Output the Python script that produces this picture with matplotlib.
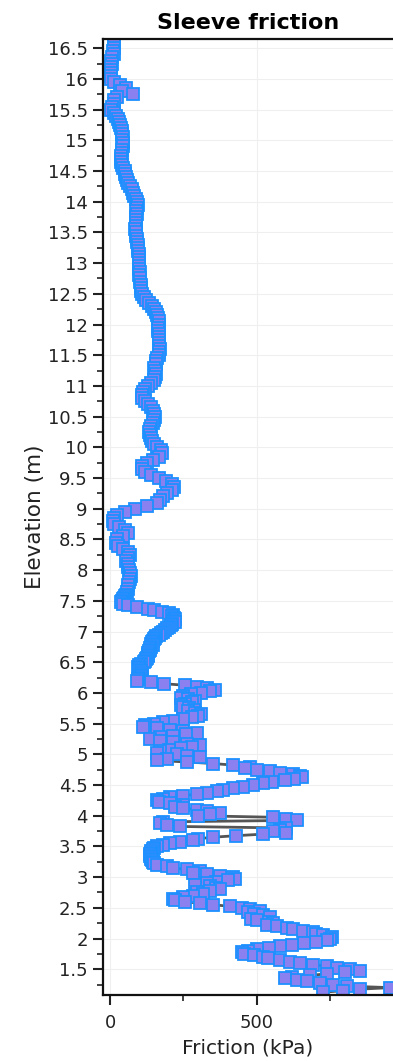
import matplotlib
matplotlib.use('Agg')
import matplotlib.pyplot as plt
from matplotlib.ticker import MultipleLocator, FuncFormatter
import numpy as np

# CPT sleeve friction log: 5 cm readings above 7.6 m, 2.5 cm readings below
upper_top, upper_step = 16.60, 0.05
lower_top, lower_step = 7.60, 0.025

friction_upper = [
    15, 12, 15, 10, 12, 8, 5, 6, 4, 5,              # 16.60 - 16.15
    3, 2, 5, 15, 35, 55, 40, 78, 25, 15,            # 16.10 - 15.65
    15, 8, 5, 12, 20, 28, 30, 35, 38, 40,           # 15.60 - 15.15
    42, 45, 42, 45, 44, 42, 40, 38, 36, 38,         # 15.10 - 14.65
    40, 45, 50, 52, 55, 58, 62, 68, 74, 78,         # 14.60 - 14.15
    82, 88, 92, 95, 93, 90, 92, 90, 88, 90,         # 14.10 - 13.65
    88, 86, 88, 90, 92, 93, 95, 96, 95, 98,         # 13.60 - 13.15
    97, 98, 100, 99, 100, 101, 100, 102, 103, 104,  # 13.10 - 12.65
    104, 106, 110, 116, 124, 133, 142, 150, 155, 160,  # 12.60 - 12.15
    162, 165, 166, 164, 163, 165, 166, 167, 168, 168,  # 12.10 - 11.65
    170, 168, 165, 160, 158, 155, 150, 152, 155, 153,  # 11.60 - 11.15
    148, 140, 130, 120, 112, 108, 110, 118, 128, 138,  # 11.10 - 10.65
    145, 150, 152, 148, 145, 140, 135, 132, 135, 140,  # 10.60 - 10.15
    142, 150, 160, 172, 178, 165, 145, 125, 110, 108,  # 10.10 - 9.65
    120, 140, 165, 190, 210, 218, 212, 195, 180, 170,  # 9.60 - 9.15
    160, 125, 85, 50, 25, 12, 10, 15, 30, 50,       # 9.10 - 8.65
    62, 45, 25, 20, 28, 45, 62, 68, 60, 55,         # 8.60 - 8.15
    60, 62, 65, 68, 70, 68, 65, 62, 60, 58,         # 8.10 - 7.65
]

friction_lower = [
    55, 52, 48, 45, 40, 36, 45, 62, 92, 129,
    150, 177, 200, 215, 210, 218, 222, 215, 220, 212,   # 7.600 - 7.125
    208, 200, 195, 188, 180, 172, 165, 158, 152, 148,
    145, 142, 140, 145, 138, 135, 136, 132, 130, 128,   # 7.100 - 6.625
    130, 126, 124, 120, 115, 105, 98, 95, 97, 100,
    104, 108, 110, 105, 98, 95, 92, 139, 184, 255,      # 6.600 - 6.125
    296, 330, 357, 340, 310, 275, 250, 240, 265, 290,
    280, 255, 240, 250, 270, 285, 265, 290, 310, 300,   # 6.100 - 5.625
    280, 250, 215, 180, 150, 120, 112, 160, 204, 248,
    296, 260, 214, 170, 136, 170, 214, 262, 306, 280,   # 5.600 - 5.125
    240, 200, 170, 160, 228, 262, 306, 194, 160, 262,
    350, 418, 476, 460, 500, 544, 578, 622, 645, 652,   # 5.100 - 4.625
    625, 594, 550, 520, 486, 452, 418, 384, 364, 330,
    296, 248, 204, 180, 160, 165, 204, 248, 220, 250,   # 4.600 - 4.125
    296, 330, 374, 340, 300, 555, 600, 636, 180, 170,
    194, 238, 600, 580, 555, 600, 520, 430, 350, 300,   # 4.100 - 3.625
    282, 238, 204, 180, 160, 150, 145, 140, 138, 136,
    136, 138, 140, 142, 145, 150, 160, 194, 214, 262,   # 3.600 - 3.125
    306, 282, 330, 374, 418, 425, 400, 360, 330, 290,
    340, 360, 374, 340, 296, 316, 282, 248, 214, 220,   # 3.100 - 2.625
    255, 306, 350, 408, 449, 476, 510, 470, 490, 520,
    544, 480, 500, 540, 555, 534, 568, 602, 622, 656,   # 2.600 - 2.125
    690, 700, 724, 755, 750, 740, 700, 660, 620, 580,
    540, 500, 470, 449, 455, 490, 520, 537, 578, 612,   # 2.100 - 1.625
    646, 690, 738, 772, 816, 850, 800, 740, 680, 620,
    595, 636, 670, 714, 758, 806, 952, 850, 792, 724,   # 1.600 - 1.125
]

friction = np.array(friction_upper + friction_lower)
elevation = np.round(np.concatenate([
    upper_top - upper_step * np.arange(len(friction_upper)),
    lower_top - lower_step * np.arange(len(friction_lower)),
]), 3)

fig = plt.figure(figsize=(3.93, 10.61), dpi=100)
ax = fig.add_axes([0.262, 0.0622, 0.738, 0.901])

ax.plot(friction, elevation, color='#555555', lw=2, zorder=2,
        marker='s', markersize=8.2, markerfacecolor='#8a80f0',
        markeredgecolor='#1e90ff', markeredgewidth=1.3)

ax.set_xlim(-24, 963)
ax.set_ylim(1.08, 16.65)

ax.xaxis.set_major_locator(MultipleLocator(500))
ax.xaxis.set_minor_locator(MultipleLocator(250))
ax.yaxis.set_major_locator(MultipleLocator(0.5))
ax.yaxis.set_minor_locator(MultipleLocator(0.25))
fmt = FuncFormatter(lambda v, pos: '%g' % v)
ax.xaxis.set_major_formatter(fmt)
ax.yaxis.set_major_formatter(fmt)

ax.grid(True, which='major', color='#efefef', lw=0.8, zorder=0)
ax.set_axisbelow(True)

ax.tick_params(axis='both', which='major', direction='out', length=7, width=1.5,
               labelsize=13, colors='#222222', pad=4)
ax.tick_params(axis='both', which='minor', direction='out', length=4.5, width=1.2,
               colors='#222222')
ax.tick_params(axis='x', which='major', pad=7)

for side in ['left', 'bottom', 'top']:
    ax.spines[side].set_linewidth(1.6)
    ax.spines[side].set_color('#111111')
ax.spines['right'].set_visible(False)

ax.set_title('Sleeve friction', fontsize=16, fontweight='bold', pad=7)
ax.set_xlabel('Friction (kPa)', fontsize=14.5, color='#222222')
ax.xaxis.set_label_coords(0.5, -0.046)
ax.set_ylabel('Elevation (m)', fontsize=15.5, color='#222222', labelpad=2)

fig.savefig('out.png', dpi=100)
